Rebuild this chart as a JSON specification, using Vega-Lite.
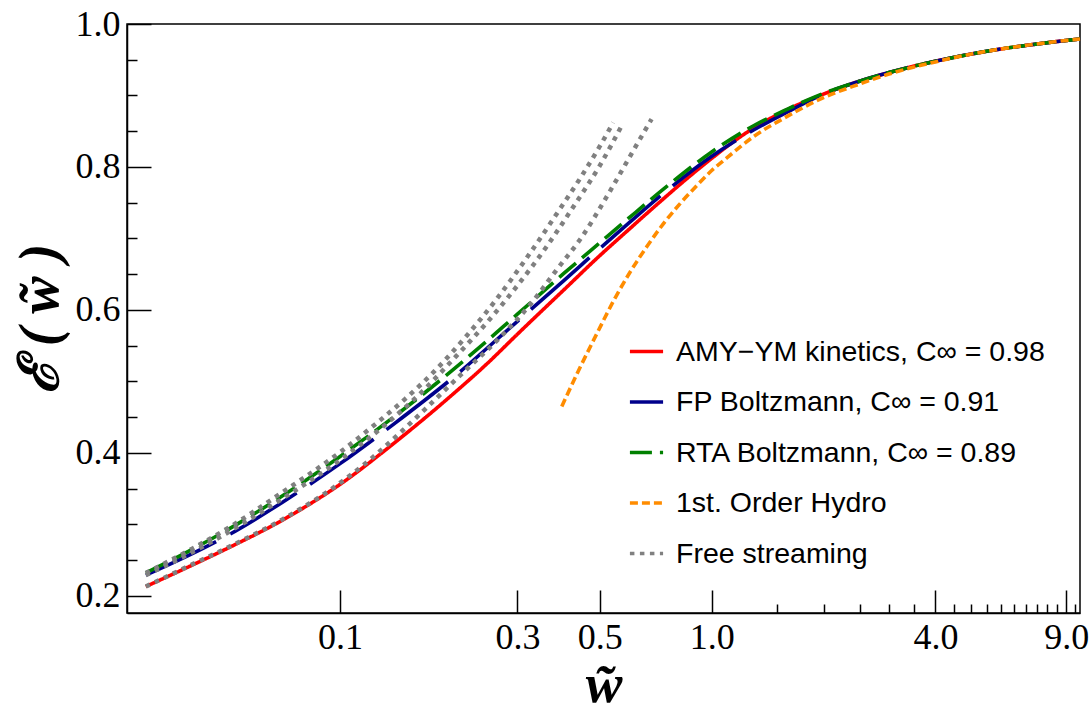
{
  "$schema": "https://vega.github.io/schema/vega-lite/v6.json",
  "width": 953,
  "height": 589,
  "autosize": {"type": "none"},
  "padding": {"left": 127, "top": 24, "right": 12, "bottom": 98},
  "background": "white",
  "config": {
    "view": {"stroke": "#000", "strokeWidth": 1.5},
    "axis": {"grid": false, "domainColor": "#000", "domainWidth": 1.5, "tickColor": "#000", "tickWidth": 1.5, "labelColor": "#000", "titleColor": "#000", "labelFont": "Liberation Serif", "labelFontSize": 36, "labelFlush": false, "labelOverlap": false}
  },
  "data": {
    "values": [
      {"s": "AMY−YM kinetics, C∞ = 0.98", "c": "amy", "x": 0.03, "y": 0.213},
      {"s": "AMY−YM kinetics, C∞ = 0.98", "c": "amy", "x": 0.04, "y": 0.243},
      {"s": "AMY−YM kinetics, C∞ = 0.98", "c": "amy", "x": 0.05, "y": 0.267},
      {"s": "AMY−YM kinetics, C∞ = 0.98", "c": "amy", "x": 0.07, "y": 0.306},
      {"s": "AMY−YM kinetics, C∞ = 0.98", "c": "amy", "x": 0.1, "y": 0.356},
      {"s": "AMY−YM kinetics, C∞ = 0.98", "c": "amy", "x": 0.14, "y": 0.414},
      {"s": "AMY−YM kinetics, C∞ = 0.98", "c": "amy", "x": 0.2, "y": 0.481},
      {"s": "AMY−YM kinetics, C∞ = 0.98", "c": "amy", "x": 0.25, "y": 0.526},
      {"s": "AMY−YM kinetics, C∞ = 0.98", "c": "amy", "x": 0.3, "y": 0.566},
      {"s": "AMY−YM kinetics, C∞ = 0.98", "c": "amy", "x": 0.4, "y": 0.628},
      {"s": "AMY−YM kinetics, C∞ = 0.98", "c": "amy", "x": 0.5, "y": 0.676},
      {"s": "AMY−YM kinetics, C∞ = 0.98", "c": "amy", "x": 0.6, "y": 0.713},
      {"s": "AMY−YM kinetics, C∞ = 0.98", "c": "amy", "x": 0.7, "y": 0.744},
      {"s": "AMY−YM kinetics, C∞ = 0.98", "c": "amy", "x": 0.85, "y": 0.782},
      {"s": "AMY−YM kinetics, C∞ = 0.98", "c": "amy", "x": 1.0, "y": 0.812},
      {"s": "AMY−YM kinetics, C∞ = 0.98", "c": "amy", "x": 1.2, "y": 0.843},
      {"s": "AMY−YM kinetics, C∞ = 0.98", "c": "amy", "x": 1.5, "y": 0.873},
      {"s": "AMY−YM kinetics, C∞ = 0.98", "c": "amy", "x": 2.0, "y": 0.902},
      {"s": "AMY−YM kinetics, C∞ = 0.98", "c": "amy", "x": 2.5, "y": 0.92},
      {"s": "AMY−YM kinetics, C∞ = 0.98", "c": "amy", "x": 3.0, "y": 0.932},
      {"s": "AMY−YM kinetics, C∞ = 0.98", "c": "amy", "x": 4.0, "y": 0.948},
      {"s": "AMY−YM kinetics, C∞ = 0.98", "c": "amy", "x": 5.0, "y": 0.958},
      {"s": "AMY−YM kinetics, C∞ = 0.98", "c": "amy", "x": 6.0, "y": 0.965},
      {"s": "AMY−YM kinetics, C∞ = 0.98", "c": "amy", "x": 7.5, "y": 0.972},
      {"s": "AMY−YM kinetics, C∞ = 0.98", "c": "amy", "x": 9.0, "y": 0.977},
      {"s": "AMY−YM kinetics, C∞ = 0.98", "c": "amy", "x": 9.8, "y": 0.979},

      {"s": " FP Boltzmann, C∞ = 0.91", "c": "fp", "x": 0.03, "y": 0.229},
      {"s": " FP Boltzmann, C∞ = 0.91", "c": "fp", "x": 0.04, "y": 0.259},
      {"s": " FP Boltzmann, C∞ = 0.91", "c": "fp", "x": 0.05, "y": 0.285},
      {"s": " FP Boltzmann, C∞ = 0.91", "c": "fp", "x": 0.07, "y": 0.331},
      {"s": " FP Boltzmann, C∞ = 0.91", "c": "fp", "x": 0.1, "y": 0.385},
      {"s": " FP Boltzmann, C∞ = 0.91", "c": "fp", "x": 0.14, "y": 0.441},
      {"s": " FP Boltzmann, C∞ = 0.91", "c": "fp", "x": 0.2, "y": 0.504},
      {"s": " FP Boltzmann, C∞ = 0.91", "c": "fp", "x": 0.3, "y": 0.584},
      {"s": " FP Boltzmann, C∞ = 0.91", "c": "fp", "x": 0.4, "y": 0.641},
      {"s": " FP Boltzmann, C∞ = 0.91", "c": "fp", "x": 0.5, "y": 0.686},
      {"s": " FP Boltzmann, C∞ = 0.91", "c": "fp", "x": 0.6, "y": 0.722},
      {"s": " FP Boltzmann, C∞ = 0.91", "c": "fp", "x": 0.75, "y": 0.765},
      {"s": " FP Boltzmann, C∞ = 0.91", "c": "fp", "x": 1.0, "y": 0.815},
      {"s": " FP Boltzmann, C∞ = 0.91", "c": "fp", "x": 1.3, "y": 0.852},
      {"s": " FP Boltzmann, C∞ = 0.91", "c": "fp", "x": 1.6, "y": 0.877},
      {"s": " FP Boltzmann, C∞ = 0.91", "c": "fp", "x": 2.0, "y": 0.902},
      {"s": " FP Boltzmann, C∞ = 0.91", "c": "fp", "x": 2.5, "y": 0.92},
      {"s": " FP Boltzmann, C∞ = 0.91", "c": "fp", "x": 3.0, "y": 0.932},
      {"s": " FP Boltzmann, C∞ = 0.91", "c": "fp", "x": 4.0, "y": 0.948},
      {"s": " FP Boltzmann, C∞ = 0.91", "c": "fp", "x": 5.0, "y": 0.958},
      {"s": " FP Boltzmann, C∞ = 0.91", "c": "fp", "x": 6.0, "y": 0.965},
      {"s": " FP Boltzmann, C∞ = 0.91", "c": "fp", "x": 7.5, "y": 0.972},
      {"s": " FP Boltzmann, C∞ = 0.91", "c": "fp", "x": 9.0, "y": 0.977},
      {"s": " FP Boltzmann, C∞ = 0.91", "c": "fp", "x": 9.8, "y": 0.979},

      {"s": "RTA Boltzmann, C∞ = 0.89", "c": "rta", "x": 0.03, "y": 0.232},
      {"s": "RTA Boltzmann, C∞ = 0.89", "c": "rta", "x": 0.04, "y": 0.265},
      {"s": "RTA Boltzmann, C∞ = 0.89", "c": "rta", "x": 0.05, "y": 0.293},
      {"s": "RTA Boltzmann, C∞ = 0.89", "c": "rta", "x": 0.07, "y": 0.34},
      {"s": "RTA Boltzmann, C∞ = 0.89", "c": "rta", "x": 0.1, "y": 0.395},
      {"s": "RTA Boltzmann, C∞ = 0.89", "c": "rta", "x": 0.14, "y": 0.451},
      {"s": "RTA Boltzmann, C∞ = 0.89", "c": "rta", "x": 0.2, "y": 0.515},
      {"s": "RTA Boltzmann, C∞ = 0.89", "c": "rta", "x": 0.3, "y": 0.594},
      {"s": "RTA Boltzmann, C∞ = 0.89", "c": "rta", "x": 0.4, "y": 0.651},
      {"s": "RTA Boltzmann, C∞ = 0.89", "c": "rta", "x": 0.5, "y": 0.694},
      {"s": "RTA Boltzmann, C∞ = 0.89", "c": "rta", "x": 0.6, "y": 0.729},
      {"s": "RTA Boltzmann, C∞ = 0.89", "c": "rta", "x": 0.75, "y": 0.771},
      {"s": "RTA Boltzmann, C∞ = 0.89", "c": "rta", "x": 1.0, "y": 0.821},
      {"s": "RTA Boltzmann, C∞ = 0.89", "c": "rta", "x": 1.3, "y": 0.858},
      {"s": "RTA Boltzmann, C∞ = 0.89", "c": "rta", "x": 1.6, "y": 0.881},
      {"s": "RTA Boltzmann, C∞ = 0.89", "c": "rta", "x": 2.0, "y": 0.903},
      {"s": "RTA Boltzmann, C∞ = 0.89", "c": "rta", "x": 2.5, "y": 0.92},
      {"s": "RTA Boltzmann, C∞ = 0.89", "c": "rta", "x": 3.0, "y": 0.932},
      {"s": "RTA Boltzmann, C∞ = 0.89", "c": "rta", "x": 4.0, "y": 0.948},
      {"s": "RTA Boltzmann, C∞ = 0.89", "c": "rta", "x": 5.0, "y": 0.958},
      {"s": "RTA Boltzmann, C∞ = 0.89", "c": "rta", "x": 6.0, "y": 0.965},
      {"s": "RTA Boltzmann, C∞ = 0.89", "c": "rta", "x": 7.5, "y": 0.972},
      {"s": "RTA Boltzmann, C∞ = 0.89", "c": "rta", "x": 9.0, "y": 0.977},
      {"s": "RTA Boltzmann, C∞ = 0.89", "c": "rta", "x": 9.8, "y": 0.979},

      {"s": "1st. Order Hydro", "c": "hydro", "x": 0.395, "y": 0.465},
      {"s": "1st. Order Hydro", "c": "hydro", "x": 0.44, "y": 0.517},
      {"s": "1st. Order Hydro", "c": "hydro", "x": 0.49, "y": 0.566},
      {"s": "1st. Order Hydro", "c": "hydro", "x": 0.55, "y": 0.617},
      {"s": "1st. Order Hydro", "c": "hydro", "x": 0.6, "y": 0.651},
      {"s": "1st. Order Hydro", "c": "hydro", "x": 0.67, "y": 0.689},
      {"s": "1st. Order Hydro", "c": "hydro", "x": 0.74, "y": 0.72},
      {"s": "1st. Order Hydro", "c": "hydro", "x": 0.82, "y": 0.748},
      {"s": "1st. Order Hydro", "c": "hydro", "x": 0.92, "y": 0.776},
      {"s": "1st. Order Hydro", "c": "hydro", "x": 1.0, "y": 0.795},
      {"s": "1st. Order Hydro", "c": "hydro", "x": 1.1, "y": 0.813},
      {"s": "1st. Order Hydro", "c": "hydro", "x": 1.3, "y": 0.843},
      {"s": "1st. Order Hydro", "c": "hydro", "x": 1.55, "y": 0.867},
      {"s": "1st. Order Hydro", "c": "hydro", "x": 2.0, "y": 0.897},
      {"s": "1st. Order Hydro", "c": "hydro", "x": 2.5, "y": 0.916},
      {"s": "1st. Order Hydro", "c": "hydro", "x": 3.0, "y": 0.93},
      {"s": "1st. Order Hydro", "c": "hydro", "x": 4.0, "y": 0.947},
      {"s": "1st. Order Hydro", "c": "hydro", "x": 5.0, "y": 0.958},
      {"s": "1st. Order Hydro", "c": "hydro", "x": 6.0, "y": 0.965},
      {"s": "1st. Order Hydro", "c": "hydro", "x": 7.5, "y": 0.972},
      {"s": "1st. Order Hydro", "c": "hydro", "x": 9.0, "y": 0.977},
      {"s": "1st. Order Hydro", "c": "hydro", "x": 9.8, "y": 0.979},

      {"s": "Free streaming", "c": "fsA", "x": 0.03, "y": 0.232},
      {"s": "Free streaming", "c": "fsA", "x": 0.04, "y": 0.266},
      {"s": "Free streaming", "c": "fsA", "x": 0.05, "y": 0.295},
      {"s": "Free streaming", "c": "fsA", "x": 0.07, "y": 0.345},
      {"s": "Free streaming", "c": "fsA", "x": 0.1, "y": 0.401},
      {"s": "Free streaming", "c": "fsA", "x": 0.125, "y": 0.441},
      {"s": "Free streaming", "c": "fsA", "x": 0.15, "y": 0.476},
      {"s": "Free streaming", "c": "fsA", "x": 0.18, "y": 0.515},
      {"s": "Free streaming", "c": "fsA", "x": 0.22, "y": 0.565},
      {"s": "Free streaming", "c": "fsA", "x": 0.26, "y": 0.611},
      {"s": "Free streaming", "c": "fsA", "x": 0.32, "y": 0.675},
      {"s": "Free streaming", "c": "fsA", "x": 0.38, "y": 0.732},
      {"s": "Free streaming", "c": "fsA", "x": 0.45, "y": 0.79},
      {"s": "Free streaming", "c": "fsA", "x": 0.5, "y": 0.829},
      {"s": "Free streaming", "c": "fsA", "x": 0.543, "y": 0.862},

      {"s": "Free streaming", "c": "fsB", "x": 0.03, "y": 0.229},
      {"s": "Free streaming", "c": "fsB", "x": 0.04, "y": 0.261},
      {"s": "Free streaming", "c": "fsB", "x": 0.05, "y": 0.289},
      {"s": "Free streaming", "c": "fsB", "x": 0.07, "y": 0.336},
      {"s": "Free streaming", "c": "fsB", "x": 0.1, "y": 0.39},
      {"s": "Free streaming", "c": "fsB", "x": 0.13, "y": 0.436},
      {"s": "Free streaming", "c": "fsB", "x": 0.165, "y": 0.484},
      {"s": "Free streaming", "c": "fsB", "x": 0.205, "y": 0.535},
      {"s": "Free streaming", "c": "fsB", "x": 0.25, "y": 0.584},
      {"s": "Free streaming", "c": "fsB", "x": 0.3, "y": 0.634},
      {"s": "Free streaming", "c": "fsB", "x": 0.36, "y": 0.689},
      {"s": "Free streaming", "c": "fsB", "x": 0.424, "y": 0.744},
      {"s": "Free streaming", "c": "fsB", "x": 0.5, "y": 0.802},
      {"s": "Free streaming", "c": "fsB", "x": 0.577, "y": 0.861},

      {"s": "Free streaming", "c": "fsC", "x": 0.03, "y": 0.213},
      {"s": "Free streaming", "c": "fsC", "x": 0.04, "y": 0.244},
      {"s": "Free streaming", "c": "fsC", "x": 0.05, "y": 0.268},
      {"s": "Free streaming", "c": "fsC", "x": 0.07, "y": 0.307},
      {"s": "Free streaming", "c": "fsC", "x": 0.1, "y": 0.358},
      {"s": "Free streaming", "c": "fsC", "x": 0.12, "y": 0.39},
      {"s": "Free streaming", "c": "fsC", "x": 0.145, "y": 0.428},
      {"s": "Free streaming", "c": "fsC", "x": 0.17, "y": 0.462},
      {"s": "Free streaming", "c": "fsC", "x": 0.21, "y": 0.508},
      {"s": "Free streaming", "c": "fsC", "x": 0.27, "y": 0.562},
      {"s": "Free streaming", "c": "fsC", "x": 0.33, "y": 0.612},
      {"s": "Free streaming", "c": "fsC", "x": 0.38, "y": 0.654},
      {"s": "Free streaming", "c": "fsC", "x": 0.45, "y": 0.704},
      {"s": "Free streaming", "c": "fsC", "x": 0.52, "y": 0.757},
      {"s": "Free streaming", "c": "fsC", "x": 0.6, "y": 0.813},
      {"s": "Free streaming", "c": "fsC", "x": 0.689, "y": 0.867}
    ]
  },
  "layer": [
    {
      "mark": {"type": "line", "interpolate": "monotone", "strokeCap": "butt"},
      "encoding": {
        "x": {
          "field": "x", "type": "quantitative",
          "scale": {"type": "log", "domain": [0.0267, 9.8], "nice": false},
          "axis": {"orient": "bottom", "values": [0.1, 0.3, 0.5, 1, 4, 9], "format": ".1f", "tickSize": -23, "labelPadding": 30, "title": "w̃", "titleFont": "Liberation Serif", "titleFontSize": 55, "titleFontWeight": "bold", "titleFontStyle": "italic", "titlePadding": 3}
        },
        "y": {
          "field": "y", "type": "quantitative",
          "scale": {"domain": [0.176, 1.0], "nice": false, "zero": false},
          "axis": {"orient": "left", "values": [0.2, 0.4, 0.6, 0.8, 1.0], "format": ".1f", "tickSize": -24, "labelPadding": 31, "title": "ℰ ( w̃ )", "titleFont": "Liberation Serif", "titleFontSize": 56, "titleFontWeight": "bold", "titleFontStyle": "italic", "titlePadding": 6}
        },
        "color": {
          "field": "s", "type": "nominal",
          "scale": {"domain": ["AMY−YM kinetics, C∞ = 0.98", " FP Boltzmann, C∞ = 0.91", "RTA Boltzmann, C∞ = 0.89", "1st. Order Hydro", "Free streaming"], "range": ["#ff0000", "#00008b", "#008000", "#ff8c00", "#808080"]},
          "legend": {"title": null, "orient": "none", "legendX": 501, "legendY": 309, "symbolType": "stroke", "symbolSize": 1100, "symbolStrokeWidth": 3.5, "labelFont": "Liberation Sans", "labelFontSize": 28.5, "labelColor": "#000", "rowPadding": 17.5, "labelOffset": 11, "padding": 0, "labelLimit": 0}
        },
        "strokeDash": {
          "field": "s", "type": "nominal",
          "scale": {"domain": ["AMY−YM kinetics, C∞ = 0.98", " FP Boltzmann, C∞ = 0.91", "RTA Boltzmann, C∞ = 0.89", "1st. Order Hydro", "Free streaming"], "range": [[1, 0], [78, 16], [22, 8], [8, 4], [4.5, 5.5]]},
          "legend": {"title": null, "orient": "none", "legendX": 501, "legendY": 309, "symbolType": "stroke", "symbolSize": 1100, "symbolStrokeWidth": 3.5, "labelFont": "Liberation Sans", "labelFontSize": 28.5, "labelColor": "#000", "rowPadding": 17.5, "labelOffset": 11, "padding": 0, "labelLimit": 0}
        },
        "strokeWidth": {"condition": {"test": "datum.s === 'Free streaming'", "value": 4.5}, "value": 3.6},
        "detail": {"field": "c"}
      }
    },
    {
      "mark": {"type": "point", "opacity": 0},
      "encoding": {
        "x": {
          "field": "x", "type": "quantitative",
          "scale": {"type": "log", "domain": [0.0267, 9.8], "nice": false},
          "axis": {"orient": "bottom", "values": [1.5, 2, 2.5, 3, 3.5, 4.5, 5, 5.5, 6, 6.5, 7, 7.5, 8, 8.5, 9.5], "labels": false, "domain": false, "tickSize": -9, "title": null}
        },
        "y": {
          "field": "y", "type": "quantitative",
          "scale": {"domain": [0.176, 1.0], "nice": false, "zero": false},
          "axis": {"orient": "left", "values": [0.25, 0.3, 0.35, 0.45, 0.5, 0.55, 0.65, 0.7, 0.75, 0.85, 0.9, 0.95], "labels": false, "domain": false, "tickSize": -10, "title": null}
        }
      }
    }
  ],
  "resolve": {"axis": {"x": "independent", "y": "independent"}}
}
